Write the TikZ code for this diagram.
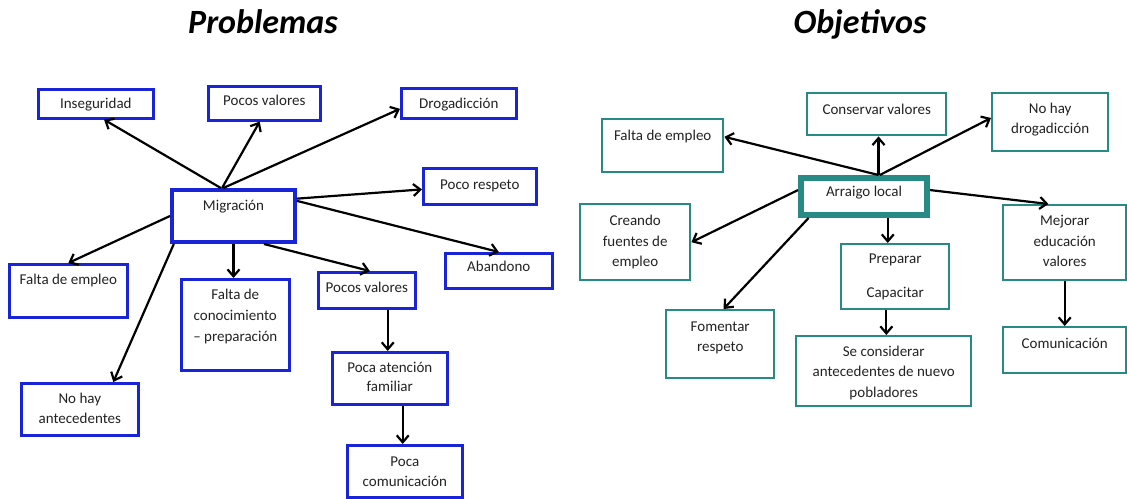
\documentclass[tikz,border=0pt]{standalone}
\usepackage{fontspec}
\setmainfont{Carlito}
\usetikzlibrary{arrows.meta,calc}
\definecolor{pblue}{RGB}{25,35,215}
\definecolor{oteal}{RGB}{40,138,133}
\definecolor{txt}{RGB}{35,35,35}
\begin{document}
\begin{tikzpicture}[x=1pt,y=-1pt,
  bx/.style={draw=pblue, line width=2.6pt, fill=white, inner sep=0pt, align=center,
    anchor=north west, text=txt, font=\fontsize{15}{20}\selectfont},
  tb/.style={bx, draw=oteal, line width=2.4pt},
  arw/.style={-{Straight Barb[length=7pt,width=12pt]}, line width=2.2pt, black},
  ttl/.style={font=\fontsize{34}{40}\selectfont\bfseries\itshape, anchor=base, text=black}]
\useasboundingbox (0,0) rectangle (1127,498);
% titles
\node[ttl] (t1) at (263,33) {Problemas};
\node[ttl] (t2) at (860,33) {Objetivos};
% ---------- Problemas ----------
\node[bx, minimum width=115pt, text height=19pt, text depth=10pt] (ins) at (37,88) {Inseguridad};
\node[bx, minimum width=112pt, text height=19.5pt, text depth=14.5pt] (pv1) at (207,85) {Pocos valores};
\node[bx, minimum width=115pt, text height=20pt, text depth=10pt] (drog) at (400,87) {Drogadicción};
\node[bx, minimum width=113pt, text height=21pt, text depth=15pt] (resp) at (422,167) {Poco respeto};
\node[bx, line width=4pt, minimum width=123pt, text height=20pt, text depth=32pt] (mig) at (170,188) {Migración};
\node[bx, minimum width=107pt, text height=18pt, text depth=17pt] (aband) at (444,252) {Abandono};
\node[bx, minimum width=118pt, text height=20pt, text depth=33pt] (fe1) at (8,263) {Falta de empleo};
\node[bx, minimum width=108pt, text height=62pt, text depth=29pt, font=\fontsize{15}{21}\selectfont] (fc) at (180,278) {Falta de\\conocimiento\\– preparación};
\node[bx, minimum width=97pt, text height=20pt, text depth=16pt] (pv2) at (317,271) {Pocos valores};
\node[bx, minimum width=115pt, text height=39.5pt, text depth=12.5pt, font=\fontsize{15}{19.5}\selectfont] (paf) at (331,351) {Poca atención\\familiar};
\node[bx, minimum width=117pt, text height=40pt, text depth=12pt] (nha) at (20,382) {No hay\\antecedentes};
\node[bx, minimum width=115pt, text height=41pt, text depth=11pt] (pcom) at (346,444) {Poca\\comunicación};
% arrows
\draw[arw] ($(mig.north west)!0.40!(mig.north east)$) -- ($(ins.south west)!0.57!(ins.south east)$);
\draw[arw] ($(mig.north west)!0.41!(mig.north east)$) -- ($(pv1.south west)!0.46!(pv1.south east)$);
\draw[arw] ($(mig.north west)!0.42!(mig.north east)$) -- ($(drog.north west)!0.67!(drog.south west)$);
\draw[arw] ($(mig.north east)!0.19!(mig.south east)$) -- ($(resp.north west)!0.58!(resp.south west)$);
\draw[arw] ($(mig.north east)!0.23!(mig.south east)$) -- (aband.north);
\draw[arw] (mig.west) -- (fe1.north);
\draw[arw] ($(mig.south west)!0.03!(mig.south east)$) -- ($(nha.north west)!0.78!(nha.north east)$);
\draw[arw] (mig.south) -- (mig.south |- fc.north);
\draw[arw] ($(mig.south west)!0.74!(mig.south east)$) -- ($(pv2.north west)!0.53!(pv2.north east)$);
\coordinate (pvb) at ($(pv2.south west)!0.71!(pv2.south east)$);
\draw[arw] (pvb) -- (pvb |- paf.north);
\coordinate (pafb) at ($(paf.south west)!0.61!(paf.south east)$);
\draw[arw] (pafb) -- (pafb |- pcom.north);
% ---------- Objetivos ----------
\node[tb, minimum width=139pt, text height=21pt, text depth=21pt] (cv) at (806,92) {Conservar valores};
\node[tb, minimum width=116pt, text height=40pt, text depth=18pt] (nhd) at (991,92) {No hay\\drogadicción};
\node[tb, minimum width=121pt, text height=21pt, text depth=32pt] (fe2) at (601,118) {Falta de empleo};
\node[tb, line width=6pt, minimum width=126pt, text height=18pt, text depth=19pt] (arr) at (798,175) {Arraigo local};
\node[tb, minimum width=110pt, text height=62.5pt, text depth=13.5pt, font=\fontsize{15}{20.5}\selectfont] (cfe) at (579,203) {Creando\\fuentes de\\empleo};
\node[tb, minimum width=123pt, text height=61.5pt, text depth=13.5pt, font=\fontsize{15}{20.5}\selectfont] (mej) at (1002,204) {Mejorar\\educación\\valores};
\node[tb, minimum width=108pt, text height=53.5pt, text depth=11.5pt] (prep) at (840,243) {Preparar\\[14pt]Capacitar};
\node[tb, minimum width=108pt, text height=41pt, text depth=27pt] (fom) at (665,309) {Fomentar\\respeto};
\node[tb, minimum width=175pt, text height=61pt, text depth=9pt, font=\fontsize{15}{20.5}\selectfont] (sec) at (795,335) {Se considerar\\antecedentes de nuevo\\pobladores};
\node[tb, minimum width=123pt, text height=21pt, text depth=25pt] (com) at (1002,326) {Comunicación};
% arrows
\coordinate (arrt) at ($(arr.north west)!0.61!(arr.north east)$);
\draw[arw] (arrt) -- ($(fe2.north east)!0.34!(fe2.south east)$);
\draw[arw] (arrt) -- (arrt |- cv.south);
\draw[arw] ($(arr.north west)!0.62!(arr.north east)$) -- ($(nhd.north west)!0.43!(nhd.south west)$);
\draw[arw] ($(arr.north east)!0.35!(arr.south east)$) -- ($(mej.north west)!0.37!(mej.north east)$);
\draw[arw] ($(arr.north west)!0.35!(arr.south west)$) -- (cfe.east);
\draw[arw] ($(arr.south west)!0.08!(arr.south east)$) -- ($(fom.north west)!0.53!(fom.north east)$);
\coordinate (arrb) at ($(arr.south west)!0.68!(arr.south east)$);
\draw[arw] (arrb) -- (arrb |- prep.north);
\coordinate (prepb) at ($(prep.south west)!0.42!(prep.south east)$);
\draw[arw] (prepb) -- (prepb |- sec.north);
\draw[arw] (mej.south) -- (mej.south |- com.north);
\end{tikzpicture}
\end{document}
